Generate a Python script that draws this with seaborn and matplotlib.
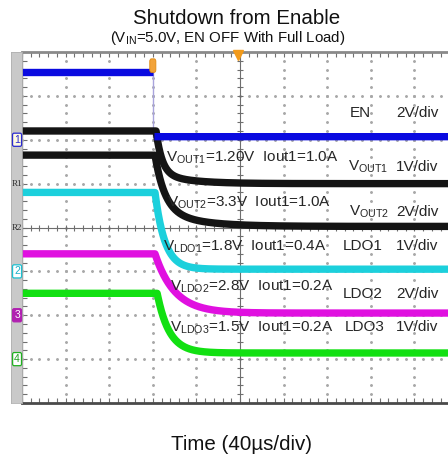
import numpy as np
import pandas as pd
import matplotlib
matplotlib.use("Agg")
import matplotlib.pyplot as plt
import seaborn as sns
from matplotlib.patches import FancyBboxPatch

sns.set_theme(style="white")
plt.rcParams["font.family"] = ["Liberation Sans", "DejaVu Sans"]
plt.rcParams["mathtext.fontset"] = "custom"
plt.rcParams["mathtext.rm"] = "Liberation Sans"
plt.rcParams["mathtext.it"] = "Liberation Sans:italic"
plt.rcParams["mathtext.bf"] = "Liberation Sans:bold"

# ---- scope channels -------------------------------------------------------
channels = ["EN", "VOUT1", "VOUT2", "LDO1", "LDO2", "LDO3"]
v_on = [3.1, 1.2, 3.3, 1.8, 2.8, 1.5]          # level before EN goes low (V)
v_off = [0.14, 0.0, 0.05, 0.05, 0.1, 0.14]     # residual level after shutdown (V)
volts_per_div = [2, 1, 2, 1, 2, 1]
ground_div = [2, 1, 0, -1, -2, -3]             # channel ground marker (div from centre)
ground_labels = ["1", "R1", "R2", "2", "3", "4"]
delay_us = [0.0, 3.0, 2.0, 2.0, 2.0, 4.0]
tau_fast_us = [0.2, 5.5, 9.0, 9.0, 18.0, 11.0]
tau_slow_us = [0.2, 27.0, 32.0, 9.0, 18.0, 11.0]
slow_share = [0.0, 0.2, 0.25, 0.0, 0.0, 0.0]
colors = ["#0a0ae0", "#141414", "#141414", "#1cd0dc", "#e010e0", "#12e012"]

trigger_us = 120.0
us_per_div = 40.0
t_end_us = 390.8

labels_left = [
    r"V$_{\mathrm{OUT1}}$=1.20V  Iout1=1.0A",
    r"V$_{\mathrm{OUT2}}$=3.3V  Iout1=1.0A",
    r"V$_{\mathrm{LDO1}}$=1.8V  Iout1=0.4A",
    r"V$_{\mathrm{LDO2}}$=2.8V  Iout1=0.2A",
    r"V$_{\mathrm{LDO3}}$=1.5V  Iout1=0.2A",
]
labels_name = ["EN", r"V$_{\mathrm{OUT1}}$", r"V$_{\mathrm{OUT2}}$", "LDO1", "LDO2", "LDO3"]
labels_scale = ["2V/div", "1V/div", "2V/div", "1V/div", "2V/div", "1V/div"]

# ---- build waveforms ------------------------------------------------------
t = np.linspace(0, t_end_us, 2400)
frames = []
for i, name in enumerate(channels):
    dt = np.clip(t - trigger_us - delay_us[i], 0, None)
    decay = ((1 - slow_share[i]) * np.exp(-dt / tau_fast_us[i])
             + slow_share[i] * np.exp(-dt / tau_slow_us[i]))
    v = v_off[i] + (v_on[i] - v_off[i]) * decay
    y = ground_div[i] + v / volts_per_div[i]
    seg = np.zeros_like(t, dtype=int)
    if name == "EN":
        # the enable edge is a clean step: draw the two levels separately
        keep = (t <= trigger_us) | (t >= trigger_us + 1.5)
        seg = (t > trigger_us).astype(int)
        frames.append(pd.DataFrame({"t": t[keep], "y": y[keep], "channel": name,
                                    "seg": seg[keep]}))
    else:
        frames.append(pd.DataFrame({"t": t, "y": y, "channel": name, "seg": seg}))
df = pd.concat(frames, ignore_index=True)

# ---- figure ---------------------------------------------------------------
W, H = 448, 462
fig = plt.figure(figsize=(W / 100, H / 100), dpi=100)
ax = fig.add_axes([22 / W, 1 - 403 / H, (W - 22) / W, 351 / H])
ax.set_xlim(0, t_end_us)
ax.set_ylim(-4, 4)
ax.set_facecolor("white")

# dotted graticule
grid_c = "#a8a8a8"
minor_x = np.arange(0, t_end_us + 0.1, us_per_div / 5)
minor_y = np.arange(-4, 4.01, 0.2)
for gy in range(-3, 4):
    if gy == 0:
        continue
    ax.plot(minor_x, np.full_like(minor_x, gy), ls="none", marker="o",
            ms=1.1, color=grid_c, zorder=1)
for k in range(1, 10):
    gx = k * us_per_div
    if k == 5:
        continue
    ax.plot(np.full_like(minor_y, gx), minor_y, ls="none", marker="o",
            ms=1.1, color=grid_c, zorder=1)

# centre cross with tick marks
ax.axhline(0, color="#6e6e6e", lw=0.8, zorder=1)
ax.axvline(5 * us_per_div, color="#6e6e6e", lw=0.8, zorder=1)
ax.plot(minor_x, np.zeros_like(minor_x), ls="none", marker="|", ms=4,
        mew=0.8, color="#6e6e6e", zorder=1)
ax.plot(np.full_like(minor_y, 5 * us_per_div), minor_y, ls="none", marker="_",
        ms=4, mew=0.8, color="#6e6e6e", zorder=1)

# enable edge
ax.plot([trigger_us, trigger_us],
        [ground_div[0] + v_on[0] / volts_per_div[0],
         ground_div[0] + v_off[0] / volts_per_div[0]],
        color="#a9a4dc", lw=1.0, zorder=2)

# traces
order = ["LDO3", "LDO2", "LDO1", "VOUT2", "VOUT1", "EN"]
palette = dict(zip(channels, colors))
for name in order:
    sub = df[df["channel"] == name]
    sns.lineplot(data=sub, x="t", y="y", units="seg", estimator=None,
                 color=palette[name], lw=5.3, ax=ax, legend=False, zorder=3,
                 solid_capstyle="butt")

# trigger markers (orange)
ax.add_patch(FancyBboxPatch((trigger_us - 2.2, 3.56), 4.4, 0.26,
                            boxstyle="round,pad=0.6,rounding_size=1.5",
                            mutation_aspect=0.04,
                            fc="#f2a33a", ec="#e08a10", lw=0.6, zorder=5))
ax.plot([5 * us_per_div - 1.5], [3.93], marker="v", ms=7, color="#f29a1a",
        clip_on=False, zorder=6)

# frame
ax.set_xticks(np.arange(0, t_end_us, us_per_div))
ax.set_yticks(np.arange(-4, 4.1, 1))
ax.set_xticks(minor_x, minor=True)
ax.set_yticks(minor_y, minor=True)
ax.tick_params(which="both", direction="in", top=True, bottom=True, left=True,
               right=False, labelbottom=False, labelleft=False,
               length=3.5, width=0.8, color="#707070")
for side, c, lw in [("top", "#8a8a8a", 2.0), ("bottom", "#4a4a4a", 2.0),
                    ("left", "#909090", 1.0)]:
    ax.spines[side].set_color(c)
    ax.spines[side].set_linewidth(lw)
ax.spines["right"].set_visible(False)
ax.set_xlabel("")
ax.set_ylabel("")

# channel marker strip
sax = fig.add_axes([11 / W, 1 - 403 / H, 11 / W, 351 / H])
sax.set_xlim(0, 1)
sax.set_ylim(-4, 4)
sax.set_facecolor("#c9c9c9")
sax.set_xticks([])
sax.set_yticks([])
for s in sax.spines.values():
    s.set_color("#b0b0b0")
    s.set_linewidth(0.6)
marker_style = {
    "1": dict(fc="#fffbe0", ec="#2a2ad0", tc="#2a2ad0"),
    "R1": dict(fc="none", ec="none", tc="#303030"),
    "R2": dict(fc="none", ec="none", tc="#303030"),
    "2": dict(fc="white", ec="#1cc0d0", tc="#1cb0c8"),
    "3": dict(fc="#b020b0", ec="#b020b0", tc="white"),
    "4": dict(fc="white", ec="#20b020", tc="#20a020"),
}
for g, lab in zip(ground_div, ground_labels):
    st = marker_style[lab]
    bbox = None
    if st["ec"] != "none":
        bbox = dict(boxstyle="round,pad=0.15", fc=st["fc"], ec=st["ec"], lw=0.9)
    sax.text(0.55, g, lab, ha="center", va="center",
             fontsize=6.5 if lab.startswith("R") else 7.5,
             color=st["tc"], bbox=bbox,
             family="Liberation Serif" if lab.startswith("R") else None)


def px_to_us(x):
    return (x - 22) / 43.6 * us_per_div


def px_to_div(y):
    return (228 - y) / 43.9


# annotations
fs = 11
ax.text(px_to_us(350), px_to_div(113), labels_name[0], fontsize=fs, va="center", zorder=7)
ax.text(px_to_us(396), px_to_div(113), labels_scale[0], fontsize=fs, va="center", zorder=7)

left_y = [158, 203, 247, 287, 328]
left_x = [166, 167, 163, 170, 170]
for lab, lx, ly in zip(labels_left, left_x, left_y):
    ax.text(px_to_us(lx), px_to_div(ly), lab, fontsize=fs, va="center", zorder=7)

name_y = [167, 212, 247, 295, 328]
name_x = [348, 349, 343, 343, 345]
for lab, sc, nx, ny in zip(labels_name[1:], labels_scale[1:], name_x, name_y):
    ax.text(px_to_us(nx), px_to_div(ny), lab, fontsize=fs, va="center", zorder=7)
    ax.text(px_to_us(396), px_to_div(ny), sc, fontsize=fs, va="center", zorder=7)

# titles
fig.text(237 / W, 1 - 19 / H, "Shutdown from Enable", ha="center", va="center",
         fontsize=14.8, color="#111111")
fig.text(228 / W, 1 - 38 / H, r"(V$_{\mathrm{IN}}$=5.0V, EN OFF With Full Load)",
         ha="center", va="center", fontsize=10.8, color="#111111")
fig.text(241 / W, 1 - 445 / H, "Time (40µs/div)", ha="center", va="center",
         fontsize=14.8, color="#111111")

fig.savefig("out.png", dpi=100)
